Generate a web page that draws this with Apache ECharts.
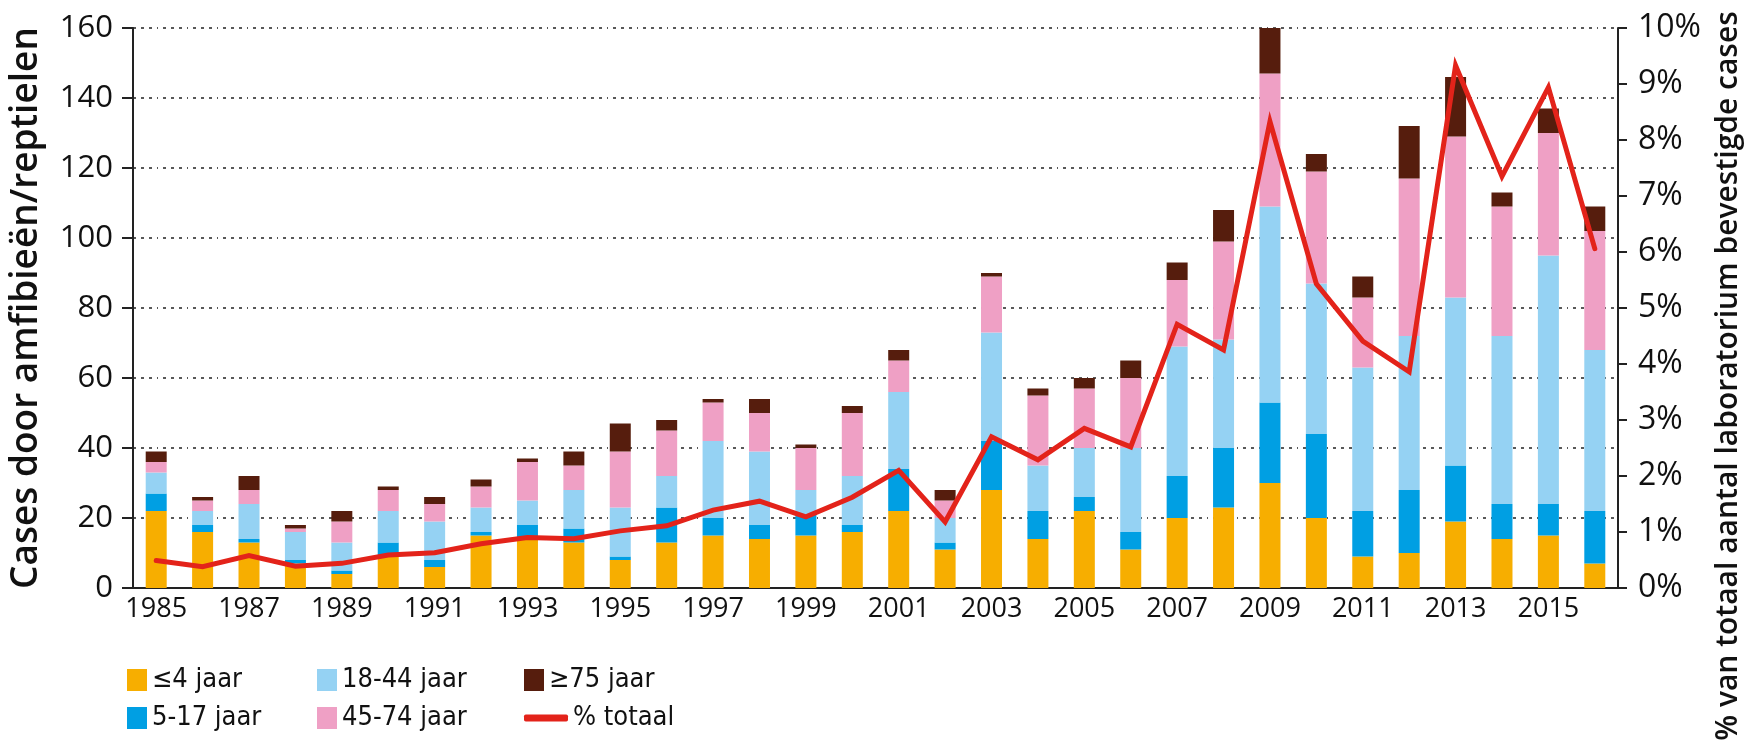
<!DOCTYPE html>
<html>
<head>
<meta charset="utf-8">
<script src="https://cdn.jsdelivr.net/npm/echarts@6/dist/echarts.min.js"></script>
<style>
  html, body { margin: 0; padding: 0; background: #fff; }
  #chart { width: 1756px; height: 741px; }
</style>
</head>
<body>
<div id="chart"></div>
<script>
const years = ['1985', '1986', '1987', '1988', '1989', '1990', '1991', '1992', '1993', '1994',
  '1995', '1996', '1997', '1998', '1999', '2000', '2001', '2002', '2003', '2004', '2005',
  '2006', '2007', '2008', '2009', '2010', '2011', '2012', '2013', '2014', '2015', '2016']

// cases per age group
const age0to4 = [22, 16, 13, 7, 4, 9, 6, 15, 14, 13, 8, 13, 15, 14, 15, 16, 22, 11, 28, 14, 22, 11, 20, 23, 30, 20, 9, 10, 19, 14, 15, 7]
const age5to17 = [5, 2, 1, 1, 1, 4, 2, 1, 4, 4, 1, 10, 5, 4, 6, 2, 12, 2, 14, 8, 4, 5, 12, 17, 23, 24, 13, 18, 16, 10, 9, 15]
const age18to44 = [6, 4, 10, 8, 8, 9, 11, 7, 7, 11, 14, 9, 22, 21, 7, 14, 22, 7, 31, 13, 14, 24, 37, 31, 56, 43, 41, 44, 48, 48, 71, 46]
const age45to74 = [3, 3, 4, 1, 6, 6, 5, 6, 11, 7, 16, 13, 11, 11, 12, 18, 9, 5, 16, 20, 17, 20, 19, 28, 38, 32, 20, 45, 46, 37, 35, 34]
const age75plus = [3, 1, 4, 1, 3, 1, 2, 2, 1, 4, 8, 3, 1, 4, 1, 2, 3, 3, 1, 2, 3, 5, 5, 9, 13, 5, 6, 15, 17, 4, 7, 7]

// % of all lab confirmed cases
const pctTotal = [0.49, 0.38, 0.58, 0.39, 0.44, 0.59, 0.63, 0.79, 0.90, 0.88, 1.02, 1.11, 1.39, 1.55, 1.27, 1.62, 2.10, 1.18, 2.70, 2.29, 2.85, 2.52, 4.71, 4.25, 8.33, 5.43, 4.41, 3.86, 9.33, 7.35, 8.94, 6.06]

const leftTicks = [0, 20, 40, 60, 80, 100, 120, 140, 160]
const rightTicks = [0, 1, 2, 3, 4, 5, 6, 7, 8, 9, 10]

const labelFont = "'Open Sans', 'Noto Sans', sans-serif"
const legendFont = "'Liberation Sans Narrow', 'DejaVu Sans Condensed', sans-serif"

const chart = echarts.init(document.getElementById('chart'), null, { renderer: 'canvas' })

const barSeries = (name, data, color) => ({
  name: name,
  type: 'bar',
  stack: 'leeftijd',
  barWidth: 21,
  data: data,
  itemStyle: { color: color },
  emphasis: { disabled: true }
})

const legendText = { fontFamily: legendFont, fontSize: 27, color: '#111', lineHeight: 28 }

// one legend per entry so that each sits where it sits in the figure
const legendItem = (name, left, top, opts) => Object.assign({
  data: [name], left: left, top: top, padding: 0,
  itemWidth: 20, itemHeight: 22, itemGap: 0, icon: 'rect', textStyle: legendText
}, opts || {})

const option = {
  animation: false,
  backgroundColor: '#fff',
  grid: { left: 127, right: 138, top: 28, bottom: 153 },
  legend: [
    legendItem('≤4 jaar', 127, 666),
    legendItem('5-17 jaar', 127, 704),
    legendItem('18-44 jaar', 317, 666),
    legendItem('45-74 jaar', 317, 704),
    legendItem('≥75 jaar', 524, 666),
    legendItem('% totaal', 524, 704, { itemWidth: 44, itemHeight: 7, icon: 'roundRect' })
  ],
  xAxis: {
    type: 'category',
    data: years,
    axisLine: { lineStyle: { color: '#222', width: 2 } },
    axisTick: { interval: 0, length: 9, lineStyle: { color: '#222', width: 2 } },
    axisLabel: { interval: 1, margin: 8, fontFamily: labelFont, fontSize: 27, color: '#111' },
    splitLine: { show: false }
  },
  yAxis: [
    {
      type: 'value',
      min: leftTicks[0],
      max: leftTicks[leftTicks.length - 1],
      interval: 20,
      name: 'Cases door amfibieën/reptielen',
      nameLocation: 'middle',
      nameGap: 88,
      nameTextStyle: { fontFamily: labelFont, fontSize: 37, fontWeight: 600, color: '#111' },
      axisLine: { show: true, lineStyle: { color: '#222', width: 2 } },
      axisTick: { show: true, length: 11, lineStyle: { color: '#222', width: 2 } },
      axisLabel: { margin: 20, fontFamily: labelFont, fontSize: 31, color: '#111' },
      splitLine: { show: true, lineStyle: { color: '#222', width: 1.5, type: [3, 5, 3, 5, 3, 5, 1, 5] } }
    },
    {
      type: 'value',
      position: 'right',
      min: rightTicks[0],
      max: rightTicks[rightTicks.length - 1],
      interval: 1,
      axisLine: { show: true, lineStyle: { color: '#222', width: 2 } },
      axisTick: { show: true, length: 9, lineStyle: { color: '#222', width: 2 } },
      axisLabel: { margin: 20, formatter: '{value}%', fontFamily: labelFont, fontSize: 32, color: '#111' },
      splitLine: { show: false }
    }
  ],
  graphic: [
    {
      type: 'text',
      x: 1728,
      y: 376,
      rotation: Math.PI / 2,
      style: {
        text: '% van totaal aantal laboratorium bevestigde cases',
        fontFamily: labelFont,
        fontSize: 30,
        fontWeight: 600,
        fill: '#111',
        align: 'center',
        verticalAlign: 'middle'
      }
    }
  ],
  series: [
    barSeries('≤4 jaar', age0to4, '#F7AE00'),
    barSeries('5-17 jaar', age5to17, '#009FE3'),
    barSeries('18-44 jaar', age18to44, '#95D2F3'),
    barSeries('45-74 jaar', age45to74, '#EFA0C5'),
    barSeries('≥75 jaar', age75plus, '#561D0D'),
    {
      name: '% totaal',
      type: 'line',
      yAxisIndex: 1,
      data: pctTotal,
      symbol: 'none',
      lineStyle: { color: '#E3231A', width: 5, cap: 'round', join: 'miter' },
      itemStyle: { color: '#E3231A' },
      emphasis: { disabled: true },
      z: 5
    }
  ]
}

chart.setOption(option)
</script>
</body>
</html>
